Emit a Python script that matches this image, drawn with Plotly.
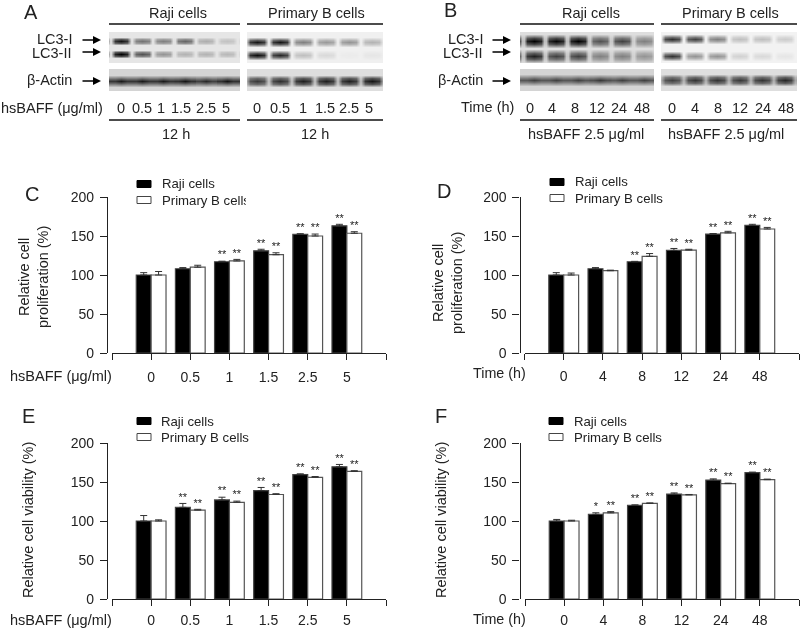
import plotly.graph_objects as go

# ---------- data ----------
dose_labels = ["0", "0.5", "1", "1.5", "2.5", "5"]
time_labels = ["0", "4", "8", "12", "24", "48"]

c_raji = [100, 108, 117, 131, 152, 163]
c_raji_err = [3, 1.5, 0.7, 2, 1, 2]
c_prim = [100, 110, 118, 126, 150, 153.5]
c_prim_err = [4.5, 2.5, 2, 2.5, 2.5, 2]
c_raji_sig = ["", "", "**", "**", "**", "**"]
c_prim_sig = ["", "", "**", "**", "**", "**"]

d_raji = [100, 108, 117, 131.5, 152.5, 163.5]
d_raji_err = [3, 1.5, 0.5, 2.5, 0.7, 1.5]
d_prim = [100, 105.5, 124, 132, 154, 159]
d_prim_err = [2.5, 0.7, 3.5, 1, 2, 2]
d_raji_sig = ["", "", "**", "**", "**", "**"]
d_prim_sig = ["", "", "**", "**", "**", "**"]

e_raji = [100, 117.5, 127, 139, 159.5, 169.5]
e_raji_err = [7, 5, 3.5, 4, 1, 3]
e_prim = [100, 114, 124, 134, 156, 163.5]
e_prim_err = [1.5, 1, 1.5, 1, 1, 1]
e_raji_sig = ["", "**", "**", "**", "**", "**"]
e_prim_sig = ["", "**", "**", "**", "**", "**"]

f_raji = [100, 108.5, 120, 134.5, 152.5, 162]
f_raji_err = [2, 2, 0.7, 1.5, 1.5, 0.7]
f_prim = [100, 110.5, 122.5, 133.5, 148, 153]
f_prim_err = [1, 1.5, 0.7, 0.5, 0.5, 0.7]
f_raji_sig = ["", "*", "**", "**", "**", "**"]
f_prim_sig = ["", "**", "**", "**", "**", "**"]

# blot band darkness (0 white .. 1 black), lane by lane
a_raji_lc3i = [0.92, 0.55, 0.5, 0.6, 0.32, 0.24]
a_raji_lc3ii = [1.0, 0.68, 0.42, 0.3, 0.3, 0.28]
a_raji_actin = [0.9, 0.9, 0.9, 0.92, 0.85, 0.92]
a_prim_lc3i = [0.92, 0.92, 0.5, 0.4, 0.42, 0.3]
a_prim_lc3ii = [0.95, 0.85, 0.25, 0.15, 0.08, 0.1]
a_prim_actin = [0.78, 0.82, 0.88, 0.88, 0.88, 0.92]
b_raji_lc3i = [1.0, 0.98, 1.0, 0.68, 0.75, 0.5]
b_raji_lc3ii = [0.88, 0.75, 0.75, 0.5, 0.5, 0.42]
b_raji_actin = [0.75, 0.75, 0.75, 0.78, 0.75, 0.75]
b_prim_lc3i = [0.82, 0.75, 0.5, 0.25, 0.25, 0.2]
b_prim_lc3ii = [0.8, 0.42, 0.42, 0.18, 0.15, 0.1]
b_prim_actin = [0.75, 0.8, 0.8, 0.78, 0.8, 0.85]

# ---------- layout helpers (pixel positions of an 800x629 page) ----------
W, H = 800, 629
FONT = "Liberation Sans, Arial, sans-serif"
INK = "#222222"
def px(x): return x / W
def py(y): return 1 - y / H

annotations, shapes = [], []
def txt(x, y, s, size=14, anchor="center", angle=0):
    annotations.append(dict(xref="paper", yref="paper", x=px(x), y=py(y), text=s, showarrow=False,
                            xanchor=anchor, yanchor="middle", textangle=angle, borderpad=0, borderwidth=0,
                            font=dict(family=FONT, size=size, color=INK)))
def arrow(x0, x1, y):
    annotations.append(dict(xref="paper", yref="paper", x=px(x1), y=py(y), ax=x0 - x1, ay=0,
                            axref="pixel", ayref="pixel", text="", showarrow=True,
                            arrowhead=2, arrowsize=1, arrowwidth=1.6, arrowcolor="#000"))
def hline(x0, x1, y):
    shapes.append(dict(type="line", xref="paper", yref="paper", x0=px(x0), x1=px(x1), y0=py(y), y1=py(y),
                       line=dict(color="#111", width=1.4)))

fig = go.Figure()
layout = {}

# ---------- bar panels ----------
panels = [
    dict(n=1, dom=(112, 386), yr=(197, 353), ya=107, off=5, labels=dose_labels, raji=c_raji, re=c_raji_err, prim=c_prim,
         pe=c_prim_err, rs=c_raji_sig, ps=c_prim_sig),
    dict(n=2, dom=(524.5, 799), yr=(197, 353), ya=519.5, off=4, labels=time_labels, raji=d_raji, re=d_raji_err, prim=d_prim,
         pe=d_prim_err, rs=d_raji_sig, ps=d_prim_sig),
    dict(n=3, dom=(112, 386), yr=(443, 599), ya=107, off=2, labels=dose_labels, raji=e_raji, re=e_raji_err, prim=e_prim,
         pe=e_prim_err, rs=e_raji_sig, ps=e_prim_sig),
    dict(n=4, dom=(525, 799), yr=(443, 599), ya=519.5, off=2, labels=time_labels, raji=f_raji, re=f_raji_err, prim=f_prim,
         pe=f_prim_err, rs=f_raji_sig, ps=f_prim_sig),
]
BAR_W = 0.38
for p in panels:
    n = p["n"]
    xa, ya = ("x" if n == 1 else f"x{n}"), ("y" if n == 1 else f"y{n}")
    pos = list(range(6))
    for vals, errs, name, fill, line, sig, shift in [
        (p["raji"], p["re"], "Raji cells", "#000000", "#444444", p["rs"], -BAR_W / 2),
        (p["prim"], p["pe"], "Primary B cells", "#ffffff", "#555555", p["ps"], BAR_W / 2),
    ]:
        fig.add_trace(go.Bar(x=pos, y=vals, name=name, xaxis=xa, yaxis=ya, width=BAR_W,
                             offset=shift - BAR_W / 2, showlegend=False,
                             marker=dict(color=fill, line=dict(color=line, width=1.2)),
                             error_y=dict(type="data", symmetric=False, array=errs, arrayminus=[0] * 6,
                                          color="#333333", thickness=1, width=3.5)))
        fig.add_trace(go.Scatter(x=[i + shift for i in pos], y=[v + e for v, e in zip(vals, errs)],
                                 mode="text", text=sig, textposition="top center", xaxis=xa, yaxis=ya,
                                 showlegend=False, cliponaxis=False, hoverinfo="skip",
                                 textfont=dict(family=FONT, size=11, color=INK)))
    sfx = "" if n == 1 else str(n)
    layout[f"xaxis{sfx}"] = dict(domain=[px(p["dom"][0]), px(p["dom"][1])], range=[-1, 6], anchor=ya,
                                 tickmode="array", tickvals=list(range(-1, 7)), ticktext=[""] + p["labels"] + [""],
                                 ticks="outside", ticklen=6, tickwidth=1.2, tickcolor="#222",
                                 showline=True, linecolor="#222", linewidth=1.3, showgrid=False, zeroline=False,
                                 ticklabelstandoff=p["off"], automargin=False,
                                 tickfont=dict(family=FONT, size=14, color=INK))
    layout[f"yaxis{sfx}"] = dict(domain=[py(p["yr"][1]), py(p["yr"][0])], range=[0, 200], anchor="free",
                                 position=px(p["ya"]), tickmode="array", tickvals=[0, 50, 100, 150, 200],
                                 ticks="outside", ticklen=7, tickwidth=1.2, tickcolor="#222",
                                 showline=True, linecolor="#222", linewidth=1.3, showgrid=False, zeroline=False,
                                 ticklabelstandoff=3, automargin=False,
                                 tickfont=dict(family=FONT, size=14, color=INK))

# ---------- blots ----------
FX = [0, 0.85, 1, 0.85, 0]
DX = [-0.47, -0.3, 0, 0.3, 0.47]
FY = [0, 0.7, 1, 0.7, 0]
YD = [-2, -0.8, 0, 0.8, 2]
blots = [
    dict(box=(109, 240, 32, 63), first=121, step=21.2, rows=[(41, a_raji_lc3i), (54, a_raji_lc3ii)], bg=0.1, gap=0.05, h=2.2),
    dict(box=(109, 240, 69, 91), first=121, step=21.2, rows=[(81, a_raji_actin)], bg=0.17, gap=0.85, h=2.8),
    dict(box=(247, 383, 32, 63), first=257, step=23, rows=[(42, a_prim_lc3i), (55, a_prim_lc3ii)], bg=0.06, gap=0.05, h=2.7),
    dict(box=(247, 383, 69, 91), first=257, step=23, rows=[(81, a_prim_actin)], bg=0.13, gap=0.2, h=3.2),
    dict(box=(520, 654, 32, 63), first=534, step=22, rows=[(41, b_raji_lc3i), (56, b_raji_lc3ii)], bg=0.13, gap=0.15, h=3.4),
    dict(box=(520, 654, 69, 91), first=534, step=22, rows=[(80, b_raji_actin)], bg=0.17, gap=0.85, h=2.8),
    dict(box=(661, 797, 32, 63), first=672, step=22.5, rows=[(39, b_prim_lc3i), (56, b_prim_lc3ii)], bg=0.05, gap=0.03, h=2.5),
    dict(box=(661, 797, 69, 91), first=672, step=22.5, rows=[(80, b_prim_actin)], bg=0.13, gap=0.3, h=3.2),
]
for k, b in enumerate(blots):
    n = 5 + k
    x0, x1, y0, y1 = b["box"]
    xg, fx = [], []
    for i in range(-1, 7):
        xg += [i + d for d in DX]
        fx += FX
    yg, rowidx, fy = [], [], []
    yg.append(y0 - 12); rowidx.append(0); fy.append(0)
    for r, (c, _) in enumerate(b["rows"]):
        for d, f in zip(YD, FY):
            yg.append(c + d * b["h"]); rowidx.append(r); fy.append(f)
    yg.append(y1 + 12); rowidx.append(len(b["rows"]) - 1); fy.append(0)
    z = []
    for ri, fv in zip(rowidx, fy):
        vals = b["rows"][ri][1]
        row = []
        for j, f in enumerate(fx):
            lane = j // 5 - 1
            v = vals[lane] if 0 <= lane <= 5 else vals[min(max(lane, 0), 5)]
            row.append(b["bg"] + (v - b["bg"]) * max(f, b["gap"]) * fv)
        z.append(row)
    fig.add_trace(go.Heatmap(z=z, x=xg, y=yg, zmin=0, zmax=1, zsmooth="best", showscale=False,
                             colorscale=[[0, "#ffffff"], [1, "#000000"]], hoverinfo="skip",
                             xaxis=f"x{n}", yaxis=f"y{n}"))
    layout[f"xaxis{n}"] = dict(domain=[px(x0), px(x1)], visible=False, anchor=f"y{n}",
                               range=[(x0 - b["first"]) / b["step"], (x1 - b["first"]) / b["step"]])
    layout[f"yaxis{n}"] = dict(domain=[py(y1), py(y0)], visible=False, anchor=f"x{n}", range=[y1, y0])

# ---------- blot texts ----------
for x, y, s in [(31, 12, "A"), (450, 10, "B"), (32, 194, "C"), (444, 191, "D"), (28, 416, "E"), (441, 416, "F")]:
    txt(x, y, s, size=20)

txt(178, 13, "Raji cells", 14.5); txt(316, 13, "Primary B cells", 14.5)
txt(591, 13, "Raji cells", 14.5); txt(730, 13, "Primary B cells", 14.5)
for a, b_ in [(109, 240), (247, 383), (520, 654), (661, 797)]:
    hline(a, b_, 24)
    hline(a, b_, 120)
for rx, ax0, ax1 in [(72, 81, 101), (483, 491, 511)]:
    txt(rx, 39, "LC3-I", 14.5, "right")
    txt(rx, 53, "LC3-II", 14.5, "right")
    txt(rx, 80, "β-Actin", 14.5, "right")
    arrow(ax0, ax1, 40); arrow(ax0, ax1, 52); arrow(ax0, ax1, 81)

txt(103, 108, "hsBAFF (μg/ml)", 14.5, "right")
txt(514, 107, "Time (h)", 14.5, "right")
for xs, labs in [([121, 142, 161, 181, 206, 226], dose_labels), ([257, 280, 303, 325, 349, 369], dose_labels),
                 ([530, 552, 575, 597, 619, 642], time_labels), ([672, 695, 718, 740, 763, 786], time_labels)]:
    for x, s in zip(xs, labs):
        txt(x, 108, s, 14.5)
txt(176, 134, "12 h", 14.5); txt(315, 134, "12 h", 14.5)
txt(586, 134, "hsBAFF 2.5 μg/ml", 14.5); txt(726, 134, "hsBAFF 2.5 μg/ml", 14.5)

# ---------- chart side texts ----------
txt(112, 376, "hsBAFF (μg/ml)", 14.5, "right")
txt(526, 373, "Time (h)", 14.3, "right")
txt(112, 620, "hsBAFF (μg/ml)", 14.5, "right")
txt(526, 619, "Time (h)", 14.3, "right")
txt(34, 277, "Relative cell<br>proliferation (%)", 14.5, angle=-90)
txt(448, 283, "Relative cell<br>proliferation (%)", 14.5, angle=-90)
txt(28, 520, "Relative cell viability (%)", 14.5, angle=-90)
txt(441, 520, "Relative cell viability (%)", 14.5, angle=-90)

# ---------- legend keys ----------
for sx, tx, y1_, y2_ in [(137, 162, 184, 200), (550, 575, 182, 198), (137, 161, 421, 437), (549, 574, 421, 437)]:
    for y, fill, lc, s in [(y1_, "#000", "#000", "Raji cells"), (y2_, "#fff", "#444", "Primary B cells")]:
        shapes.append(dict(type="rect", xref="paper", yref="paper", x0=px(sx), x1=px(sx + 14),
                           y0=py(y + 3.5), y1=py(y - 3.5), fillcolor=fill, line=dict(color=lc, width=1)))
        txt(tx, y, s, 13.2, "left")
# the last letter of the legend in panel C is cropped in the reference
annotations.append(dict(xref="paper", yref="paper", x=px(245.5), y=py(200), text=" ", showarrow=False, xanchor="left",
                        yanchor="middle", width=9, height=18, bgcolor="#ffffff", borderpad=0, borderwidth=0))

fig.update_layout(width=W, height=H, margin=dict(l=0, r=0, t=0, b=0, autoexpand=False), autosize=False,
                  paper_bgcolor="#ffffff", plot_bgcolor="rgba(0,0,0,0)", showlegend=False,
                  annotations=annotations, shapes=shapes, **layout)
fig.write_html("out.html", config=dict(displayModeBar=False),
               post_script="document.body.style.margin='0';document.documentElement.style.overflow='hidden';"
                           "document.querySelectorAll('.main-svg').forEach(function(s){s.style.willChange='transform';});")
